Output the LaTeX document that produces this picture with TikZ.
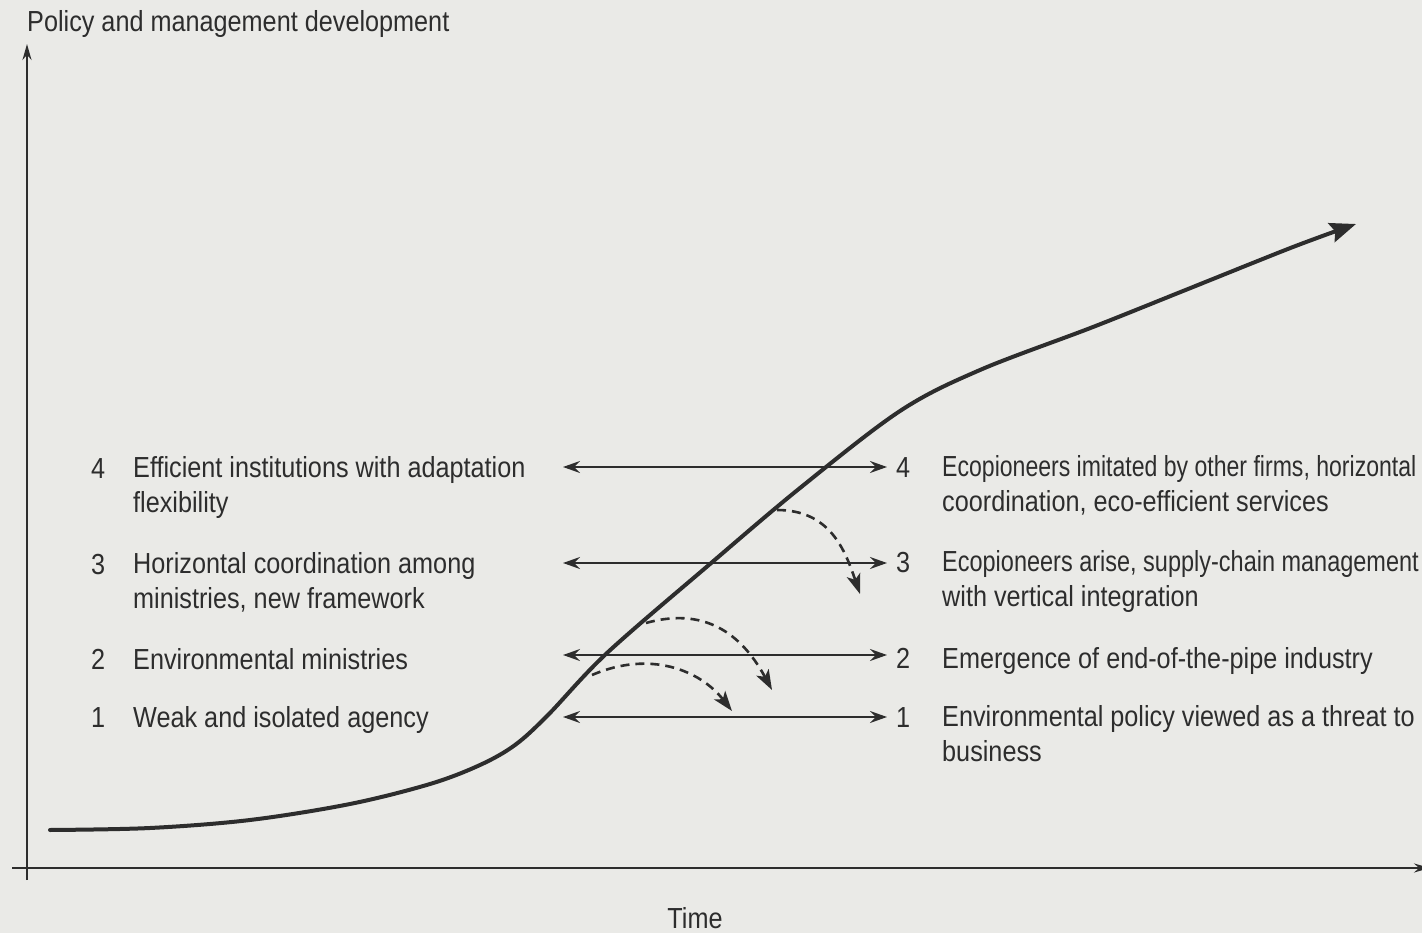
\documentclass[tikz,border=0pt]{standalone}
\usepackage{fontspec}
\setmainfont{Liberation Sans}[FakeStretch=0.87]
\newfontfamily\narrowA{Liberation Sans}[FakeStretch=0.795]
\newfontfamily\narrowB{Liberation Sans}[FakeStretch=0.81]
\usetikzlibrary{arrows.meta}
\definecolor{bg}{RGB}{234,234,231}
\definecolor{ink}{RGB}{45,45,45}
\tikzset{
  lbl/.style={anchor=base west, inner sep=0pt, text=ink, font=\fontsize{29}{35}\selectfont, align=left},
  num/.style={anchor=base west, inner sep=0pt, text=ink, font=\fontsize{29}{35}\selectfont},
  link/.style={draw=ink, line width=2pt, {Stealth[length=17pt,width=12pt,inset=6pt]}-{Stealth[length=17pt,width=12pt,inset=6pt]}},
  dashmove/.style={draw=ink, line width=2.6pt, dash pattern=on 9pt off 6pt, -{Stealth[length=20pt,width=14pt,inset=5pt]}},
  axis/.style={draw=ink, line width=2pt, -{Stealth[length=16pt,width=9pt]}},
}
\begin{document}
\begin{tikzpicture}[x=1pt,y=-1pt]
\fill[bg] (0,0) rectangle (1422,933);
\useasboundingbox (0,0) rectangle (1422,933);
% axes
\coordinate (o) at (27,880);
\coordinate (ytop) at (27,44);
\coordinate (xl) at (12,868);
\coordinate (xr) at (1430,868);
\draw[axis] (o) -- (ytop);
\draw[axis] (xl) -- (xr);
\node[lbl] (ylab) at (27,32) {Policy and management development};
\node[lbl, anchor=base] (xlab) at (695,928) {Time};
% curve
\draw[draw=ink, line width=4pt, line cap=round, -{Stealth[length=26pt,width=20pt,inset=4pt]}]
  plot[smooth, tension=0.55] coordinates {(50,830) (150,828) (250,820) (350,804) (430,784) (480,765) (515,745) (548,715) (607,653) (710,564) (800,488) (900,411) (980,370) (1093,327) (1193,287) (1293,247) (1356,224)};
% horizontal arrows
\foreach \n/\y in {4/467,3/563,2/655,1/717}{
  \coordinate (L\n) at (563,\y);
  \coordinate (R\n) at (887,\y);
  \draw[link] (L\n) -- (R\n);
}
% dashed shifts
\coordinate (s1) at (592,675);
\coordinate (e1) at (732,711);
\coordinate (s2) at (646,623);
\coordinate (e2) at (772,690);
\coordinate (s3) at (777,510);
\coordinate (e3) at (860,594);
\draw[dashmove] (s1) .. controls (650,650) and (700,670) .. (e1);
\draw[dashmove] (s2) .. controls (710,605) and (745,640) .. (e2);
\draw[dashmove] (s3) .. controls (830,510) and (845,550) .. (e3);
% left labels
\node[num] (ln4) at (91,478) {4};
\node[lbl] (lt4) at (133,512) {Efficient institutions with adaptation\\flexibility};
\node[num] (ln3) at (91,574) {3};
\node[lbl] (lt3) at (133,608) {Horizontal coordination among\\ministries, new framework};
\node[num] (ln2) at (91,669) {2};
\node[lbl] (lt2) at (133,669) {Environmental ministries};
\node[num] (ln1) at (91,727) {1};
\node[lbl] (lt1) at (133,727) {Weak and isolated agency};
% right labels
\node[num] (rn4) at (896,477) {4};
\node[lbl] (rt4) at (942,511) {{\narrowA Ecopioneers imitated by other firms, horizontal}\\coordination, eco-efficient services};
\node[num] (rn3) at (896,572) {3};
\node[lbl] (rt3) at (942,606) {{\narrowB Ecopioneers arise, supply-chain management}\\with vertical integration};
\node[num] (rn2) at (896,668) {2};
\node[lbl] (rt2) at (942,668) {Emergence of end-of-the-pipe industry};
\node[num] (rn1) at (896,727) {1};
\node[lbl] (rt1) at (942,761) {Environmental policy viewed as a threat to\\business};
\end{tikzpicture}
\end{document}
